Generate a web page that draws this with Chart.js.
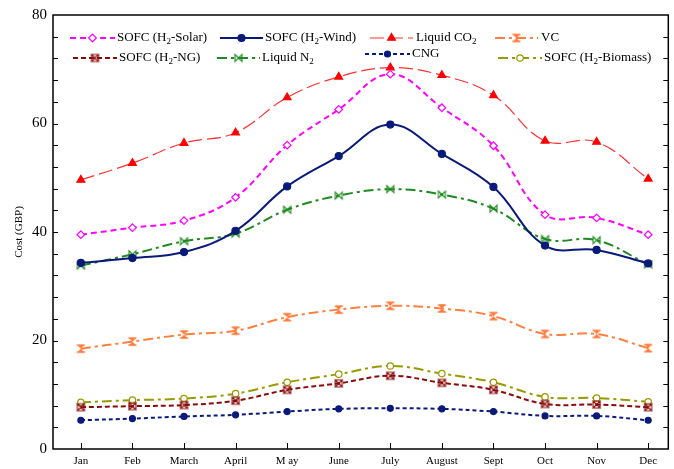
<!DOCTYPE html>
<html lang="en">
<head>
  <meta charset="UTF-8">
  <title>Monthly Cost</title>
  <script src="https://cdn.jsdelivr.net/npm/chart.js"></script>
  <style>
    body { margin: 0; background: #ffffff; }
    .wrap { width: 674px; height: 469px; }
  </style>
</head>
<body>
  <div class="wrap"><canvas id="costChart" width="674" height="469"></canvas></div>

  <script>
    // months on the x axis
    const months = ['Jan', 'Feb', 'March', 'April', 'M ay', 'June', 'July', 'August', 'Sept', 'Oct', 'Nov', 'Dec'];
    const yTicks = [0, 20, 40, 60, 80];

    // values (GBP)
    const solar   = [39.5, 40.8, 42.1, 46.4, 56.0, 62.6, 69.1, 62.9, 55.9, 43.2, 42.6, 39.5];
    const wind    = [34.3, 35.2, 36.3, 40.2, 48.4, 54.0, 59.8, 54.4, 48.3, 37.5, 36.7, 34.2];
    const co2     = [49.6, 52.7, 56.4, 58.3, 64.8, 68.6, 70.3, 68.9, 65.2, 56.8, 56.6, 49.8];
    const vc      = [18.5, 19.8, 21.1, 21.8, 24.3, 25.7, 26.4, 25.9, 24.5, 21.2, 21.2, 18.6];
    const ng      = [7.7, 7.9, 8.1, 8.9, 10.9, 12.1, 13.5, 12.2, 10.9, 8.3, 8.2, 7.7];
    const n2      = [33.8, 35.9, 38.3, 39.7, 44.1, 46.7, 47.9, 46.9, 44.3, 38.7, 38.5, 34.0];
    const cng     = [5.3, 5.6, 6.0, 6.3, 6.9, 7.4, 7.5, 7.4, 6.9, 6.1, 6.1, 5.3];
    const biomass = [8.6, 9.0, 9.3, 10.2, 12.3, 13.8, 15.3, 13.9, 12.3, 9.6, 9.4, 8.7];

    const serif = "'Liberation Serif', 'Times New Roman', serif";

    // little canvases for the markers Chart.js has no style for
    function marker(kind, color) {
      const c = document.createElement('canvas');
      const r = 3.5;
      c.width = c.height = 11;
      const g = c.getContext('2d');
      g.translate(5.5, 5.5);
      g.strokeStyle = color;
      g.fillStyle = color;
      g.lineWidth = 1.1;
      g.beginPath();
      if (kind === 'hourglass') {
        g.moveTo(-r, -r); g.lineTo(r, -r); g.lineTo(0, 0);
        g.lineTo(r, r); g.lineTo(-r, r); g.lineTo(0, 0); g.closePath();
        g.fill();
        g.lineWidth = 1.4;
        g.beginPath();
        g.moveTo(-r - 0.5, -r); g.lineTo(r + 0.5, -r);
        g.moveTo(-r - 0.5, r); g.lineTo(r + 0.5, r);
        g.stroke();
      } else if (kind === 'hourglassOpen') {
        g.moveTo(-r, -r); g.lineTo(r, -r); g.lineTo(-r, r);
        g.lineTo(r, r); g.closePath();
        g.moveTo(-r, -r); g.lineTo(-r, r);
        g.moveTo(r, -r); g.lineTo(r, r);
        g.stroke();
      } else if (kind === 'bowtie') {
        g.moveTo(-r, -r); g.lineTo(r, r); g.lineTo(r, -r);
        g.lineTo(-r, r); g.closePath();
        g.stroke();
      }
      return c;
    }

    const series = [
      { label: 'SOFC (H|2|-Solar)', data: solar, color: '#ff00ff', dash: [6, 4], width: 2,
        point: 'rectRot', radius: 3.8, fill: '#ffffff' },
      { label: 'SOFC (H|2|-Wind)', data: wind, color: '#0a1a7a', dash: [], width: 2,
        point: 'circle', radius: 3.5, fill: '#0a1a7a' },
      { label: 'Liquid CO|2|', data: co2, color: '#ff3030', dash: [14, 5], width: 1.2,
        point: 'triangle', radius: 4.5, fill: '#ff0000', pcolor: '#ff0000' },
      { label: 'VC', data: vc, color: '#ff8040', dash: [10, 4, 3, 4], width: 2,
        point: marker('hourglass', '#ff7a3a') },
      { label: 'SOFC (H|2|-NG)', data: ng, color: '#8b0a0a', dash: [5, 3], width: 2,
        point: marker('hourglassOpen', '#8b0a0a') },
      { label: 'Liquid N|2|', data: n2, color: '#1f8a1f', dash: [10, 4, 3, 4], width: 2,
        point: marker('bowtie', '#1f8a1f') },
      { label: 'CNG', data: cng, color: '#0a1a7a', dash: [4, 3], width: 2,
        point: 'circle', radius: 3, fill: '#0a1a7a' },
      { label: 'SOFC (H|2|-Biomass)', data: biomass, color: '#999900', dash: [10, 4, 3, 4], width: 2,
        point: 'circle', radius: 3.2, fill: '#ffffff' }
    ];

    // legend placement: [line start, line end, text x, y]
    const legendPos = [
      [70, 115, 117, 38], [220, 263, 265, 38], [370, 413, 416, 38], [495, 538, 541, 38],
      [73, 117, 119, 58], [217, 260, 262, 58], [365, 410, 412, 54], [498, 542, 544, 58]
    ];

    const datasets = series.map(s => ({
      label: s.label.replace(/\|/g, ''),
      data: s.data.map((v, i) => ({ x: i, y: v })),
      borderColor: s.color,
      borderWidth: s.width,
      borderDash: s.dash,
      tension: 0.4,
      pointStyle: s.point,
      pointRadius: s.radius || 4,
      pointBackgroundColor: s.fill || s.color,
      pointBorderColor: s.pcolor || s.color,
      pointBorderWidth: 1.2,
      fill: false
    }));

    function drawLabel(ctx, text, x, y) {
      const parts = text.split('|');
      let cx = x;
      parts.forEach((p, k) => {
        if (k % 2 === 1) {
          ctx.font = '9px ' + serif;
          ctx.fillText(p, cx, y + 4);
        } else {
          ctx.font = '13px ' + serif;
          ctx.fillText(p, cx, y);
        }
        cx += ctx.measureText(p).width;
      });
    }

    const frameAndLegend = {
      id: 'frameAndLegend',
      afterDraw(chart) {
        const ctx = chart.ctx;
        const a = chart.chartArea;
        const ys = chart.scales.y, xs = chart.scales.x;
        ctx.save();
        ctx.strokeStyle = '#000';
        ctx.lineWidth = 1.5;
        ctx.strokeRect(a.left, a.top, a.right - a.left, a.bottom - a.top);
        ctx.lineWidth = 1;
        ctx.beginPath();
        for (let v = 4; v < 80; v += 4) {
          const py = Math.round(ys.getPixelForValue(v)) + 0.5;
          ctx.moveTo(a.left, py); ctx.lineTo(a.left + 5, py);
          ctx.moveTo(a.right, py); ctx.lineTo(a.right - 5, py);
        }
        months.forEach((m, i) => {
          const px = Math.round(xs.getPixelForValue(i)) + 0.5;
          ctx.moveTo(px, a.bottom); ctx.lineTo(px, a.bottom - 6);
        });
        ctx.stroke();

        // legend
        ctx.textBaseline = 'middle';
        series.forEach((s, k) => {
          const [x0, x1, tx, y] = legendPos[k];
          const o = chart.getDatasetMeta(k).data[0].options;
          ctx.save();
          ctx.strokeStyle = s.color;
          ctx.lineWidth = s.width;
          ctx.setLineDash(s.dash);
          ctx.beginPath();
          ctx.moveTo(x0, y); ctx.lineTo(x1, y);
          ctx.stroke();
          ctx.setLineDash([]);
          ctx.fillStyle = o.backgroundColor;
          ctx.strokeStyle = o.borderColor;
          ctx.lineWidth = o.borderWidth;
          Chart.helpers.drawPoint(ctx, {
            pointStyle: o.pointStyle, radius: o.radius, rotation: 0,
            borderWidth: o.borderWidth
          }, (x0 + x1) / 2, y);
          ctx.restore();
          ctx.fillStyle = '#000';
          drawLabel(ctx, s.label, tx, y);
        });
        ctx.restore();
      }
    };

    new Chart(document.getElementById('costChart'), {
      type: 'line',
      data: { datasets },
      options: {
        responsive: false,
        animation: false,
        layout: { padding: { top: 14, right: 2, left: 0, bottom: 0 } },
        plugins: { legend: { display: false }, tooltip: { enabled: false } },
        scales: {
          x: {
            type: 'linear',
            min: -0.54,
            max: 11.39,
            grid: { display: false, drawTicks: false },
            border: { display: false },
            afterBuildTicks: s => { s.ticks = months.map((m, i) => ({ value: i })); },
            afterFit: s => { s.height = 20; },
            ticks: {
              autoSkip: false,
              maxRotation: 0,
              padding: 6,
              color: '#000',
              font: { family: serif, size: 11 },
              callback: v => months[v]
            }
          },
          y: {
            min: 0,
            max: 80,
            grid: { display: false, drawTicks: false },
            border: { display: false },
            afterBuildTicks: s => { s.ticks = yTicks.map(v => ({ value: v })); },
            afterFit: s => { s.width = 53; },
            title: {
              display: true,
              text: 'Cost (GBP)',
              color: '#000',
              padding: { top: 13, bottom: 0 },
              font: { family: serif, size: 11 }
            },
            ticks: {
              padding: 6,
              color: '#000',
              font: { family: serif, size: 15 }
            }
          }
        }
      },
      plugins: [frameAndLegend]
    });
  </script>
</body>
</html>
